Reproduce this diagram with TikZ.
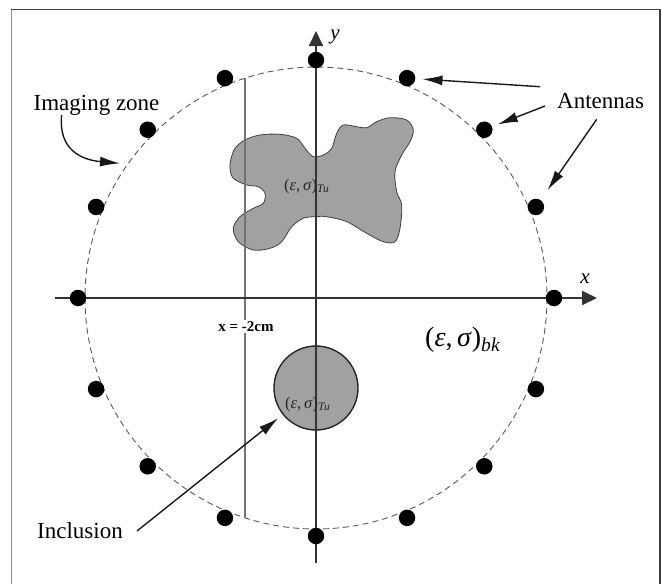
\documentclass[tikz,border=0pt]{standalone}
\usepackage{fontspec}
\setmainfont{Liberation Serif}
\usetikzlibrary{arrows.meta}
\begin{document}
\begin{tikzpicture}[x=1pt,y=-1pt,
  lbl/.style={inner sep=0pt, font=\fontsize{23}{27}\selectfont},
  ant/.style={circle, fill=black, inner sep=0pt, minimum size=16.5pt},
  axisline/.style={line width=1.8pt, draw=black!80, -{Triangle[length=15pt,width=14pt]}},
  note/.style={line width=1.4pt, draw=black!90, -{Latex[length=20pt,width=10pt]}},
  shapefill/.style={fill=black!37},
  zone/.style={draw=black!65, line width=0.9pt, dash pattern=on 6pt off 4pt},
  cutline/.style={draw=black!55, line width=1.1pt}
]
\useasboundingbox (0,0) rectangle (662,584);
\clip (0,0) rectangle (662,584);
% frame
\draw[line width=1.8pt, black!45] (11.5,600) -- (11.5,9.5);
\draw[line width=1.5pt, black!75] (10.6,9.5) -- (660,9.5) -- (660,600);
% scatterers
\path[shapefill, draw=black!75, line width=0.8pt] plot[smooth cycle, tension=0.55] coordinates {
 (230.7,160) (235,148.3) (245,140) (260,135) (280,134.3) (296.7,138.3) (305,148.3)
 (313.3,156.7) (323.3,155) (331.7,148.3) (336.7,133.3) (343.3,125) (356.7,126.7)
 (366.7,127.7) (376.7,121.7) (390,117.7) (406.7,120) (413.3,130) (410,141.7)
 (401.7,155) (395,171.7) (396.7,191.7) (401.7,205) (400,228.3) (395,241.7)
 (383.3,241.7) (366.7,233.3) (346.7,221.7) (326.7,216.7) (315,216.7) (303.3,218.3)
 (291.7,226.7) (281.7,241.7) (270,248.3) (253.3,250) (238.3,241.7) (233.3,228.3)
 (240,216.7) (253.3,208.3) (263.3,203.3) (265,193.3) (258.3,186.7) (246.7,185)
 (233.3,178.3) (230,168.3)};
\node[circle, shapefill, draw=black!85, line width=1.4pt, minimum size=84pt, inner sep=0pt] (incl) at (316,388) {};
% imaging zone
\coordinate (ctr) at (316,298);
\draw[zone] (ctr) circle[radius=231];
% line x = -2cm
\coordinate (c1) at (245,78);
\coordinate (c2) at (245,518);
\draw[cutline] (c1) -- (c2);
% axes
\coordinate (xs) at (55,298);
\coordinate (xe) at (597,298);
\coordinate (ys) at (316,563);
\coordinate (ye) at (316,31);
\draw[axisline] (xs) -- (xe);
\draw[axisline] (ys) -- (ye);
\node[inner sep=0pt, font=\fontsize{21}{25}\selectfont\itshape] (xl) at (585,279) {x};
\node[inner sep=0pt, font=\fontsize{21}{25}\selectfont\itshape] (yl) at (335,37) {y};
% antennas
\foreach \i in {0,...,15}
  \path (ctr) ++ ({\i*22.5}:238) node[ant] (ant\i) {};
% labels
\node[lbl, anchor=base] (iz) at (96.5,110) {Imaging zone};
\node[lbl, anchor=base west] (an) at (557,108) {Antennas};
\node[lbl, anchor=base west] (inc) at (37,538) {Inclusion};
\node[inner sep=1.5pt, fill=white, anchor=base, font=\fontsize{15}{18}\selectfont\bfseries] (xcut) at (246,331.7) {x = -2cm};
\node[inner sep=0pt, anchor=base west, font=\fontsize{28}{32}\selectfont] (bk) at (425,346) {(\textit{ε},\,\textit{σ})\textsubscript{\textit{bk}}};
\node[inner sep=0pt, anchor=base west, font=\fontsize{16.5}{19}\selectfont, text=black!85] (tu1) at (284,190) {(\textit{ε},\,\textit{σ})\textsubscript{\textit{Tu}}};
\node[inner sep=0pt, anchor=base west, font=\fontsize{16.5}{19}\selectfont, text=black!85] (tu2) at (285,408) {(\textit{ε},\,\textit{σ})\textsubscript{\textit{Tu}}};
% annotation arrows
\coordinate (a1) at (540,86.7);
\coordinate (a2) at (545,106);
\coordinate (a3) at (596.7,119.3);
\draw[note, shorten >=7pt] (a1) -- (ant13);
\draw[note, shorten >=6pt] (a2) -- (ant14);
\draw[note, shorten >=12pt] (a3) -- (ant15);
\coordinate (iz1) at (61.7,115);
\coordinate (iz2) at (120,163.3);
\draw[note] (iz1) .. controls (58,150) and (82,160) .. (iz2);
\coordinate (in1) at (137,531);
\draw[note, shorten >=5.6pt] (in1) -- (incl);
\end{tikzpicture}
\end{document}
